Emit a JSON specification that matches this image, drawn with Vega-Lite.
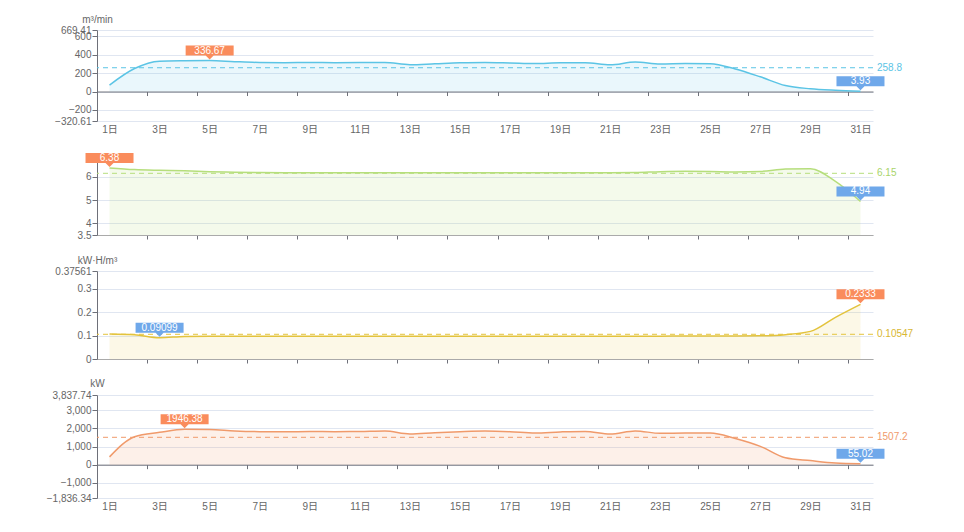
{
  "$schema": "https://vega.github.io/schema/vega-lite/v6.json",
  "autosize": {"type": "pad"},
  "padding": {"left": 46, "top": 14, "right": 0, "bottom": 0},
  "background": "white",
  "datasets": {
    "flow": [
      {"d":1,"v":70},{"d":2,"v":250},{"d":3,"v":330},{"d":4,"v":335},{"d":5,"v":336.67},{"d":6,"v":325},{"d":7,"v":316},{"d":8,"v":314},{"d":9,"v":315},{"d":10,"v":314},{"d":11,"v":316},{"d":12,"v":316},{"d":13,"v":292},{"d":14,"v":302},{"d":15,"v":312},{"d":16,"v":316},{"d":17,"v":311},{"d":18,"v":305},{"d":19,"v":312},{"d":20,"v":312},{"d":21,"v":290},{"d":22,"v":322},{"d":23,"v":300},{"d":24,"v":304},{"d":25,"v":302},{"d":26,"v":245},{"d":27,"v":160},{"d":28,"v":65},{"d":29,"v":30},{"d":30,"v":14},{"d":31,"v":3.93}
    ],
    "ratio": [
      {"d":1,"v":6.38},{"d":2,"v":6.31},{"d":3,"v":6.28},{"d":4,"v":6.26},{"d":5,"v":6.22},{"d":6,"v":6.2},{"d":7,"v":6.18},{"d":8,"v":6.17},{"d":9,"v":6.17},{"d":10,"v":6.17},{"d":11,"v":6.17},{"d":12,"v":6.17},{"d":13,"v":6.17},{"d":14,"v":6.17},{"d":15,"v":6.17},{"d":16,"v":6.17},{"d":17,"v":6.17},{"d":18,"v":6.17},{"d":19,"v":6.17},{"d":20,"v":6.17},{"d":21,"v":6.17},{"d":22,"v":6.18},{"d":23,"v":6.22},{"d":24,"v":6.24},{"d":25,"v":6.23},{"d":26,"v":6.21},{"d":27,"v":6.23},{"d":28,"v":6.33},{"d":29,"v":6.35},{"d":30,"v":5.8},{"d":31,"v":4.94}
    ],
    "eff": [
      {"d":1,"v":0.1065},{"d":2,"v":0.1035},{"d":3,"v":0.09099},{"d":4,"v":0.0965},{"d":5,"v":0.0975},{"d":6,"v":0.0975},{"d":7,"v":0.097},{"d":8,"v":0.097},{"d":9,"v":0.097},{"d":10,"v":0.097},{"d":11,"v":0.0975},{"d":12,"v":0.0975},{"d":13,"v":0.097},{"d":14,"v":0.097},{"d":15,"v":0.0975},{"d":16,"v":0.0975},{"d":17,"v":0.097},{"d":18,"v":0.097},{"d":19,"v":0.0975},{"d":20,"v":0.0975},{"d":21,"v":0.097},{"d":22,"v":0.0975},{"d":23,"v":0.0975},{"d":24,"v":0.098},{"d":25,"v":0.098},{"d":26,"v":0.098},{"d":27,"v":0.099},{"d":28,"v":0.104},{"d":29,"v":0.118},{"d":30,"v":0.178},{"d":31,"v":0.2333}
    ],
    "power": [
      {"d":1,"v":430},{"d":2,"v":1540},{"d":3,"v":1780},{"d":4,"v":1946.38},{"d":5,"v":1935},{"d":6,"v":1855},{"d":7,"v":1818},{"d":8,"v":1813},{"d":9,"v":1823},{"d":10,"v":1818},{"d":11,"v":1828},{"d":12,"v":1853},{"d":13,"v":1693},{"d":14,"v":1763},{"d":15,"v":1818},{"d":16,"v":1853},{"d":17,"v":1818},{"d":18,"v":1748},{"d":19,"v":1803},{"d":20,"v":1833},{"d":21,"v":1688},{"d":22,"v":1858},{"d":23,"v":1728},{"d":24,"v":1743},{"d":25,"v":1743},{"d":26,"v":1440},{"d":27,"v":1010},{"d":28,"v":380},{"d":29,"v":225},{"d":30,"v":95},{"d":31,"v":55.02}
    ]
  },
  "resolve": {"scale": {"x": "independent", "y": "independent"}},
  "spacing": 36,
  "bounds": "flush",
  "vconcat": [
    {
      "width": 776, "height": 91,
      "layer": [
        {
          "data": {"name": "flow"},
          "mark": {"type": "area", "interpolate": "monotone", "color": "#5BC4E5", "opacity": 0.13},
          "encoding": {
            "x": {"field": "d", "type": "quantitative", "scale": {"domain": [0.5, 31.5], "nice": false, "zero": false},
              "axis": {"title": null, "grid": false, "tickCount": 100, "values": [1,2.5,3,4.5,5,6.5,7,8.5,9,10.5,11,12.5,13,14.5,15,16.5,17,18.5,19,20.5,21,22.5,23,24.5,25,26.5,27,28.5,29,30.5,31],
                "labelExpr": "datum.value % 1 === 0 ? datum.value + '日' : ''",
                "tickOpacity": {"condition": {"test": "datum.value % 1 === 0", "value": 0}, "value": 1},
                "tickSize": 4, "offset": -29.47, "labelPadding": 29, "labelFlush": false, "labelOverlap": false, "labelBound": false}},
            "y": {"field": "v", "type": "quantitative", "scale": {"domain": [-320.61, 669.41], "nice": false, "zero": false},
              "axis": {"title": "m³/min", "tickCount": 100, "values": [-320.61, -200, 0, 200, 400, 600, 669.41], "format": ",.2~f", "labelOverlap": false, "labelFlush": false, "tickSize": 5, "labelPadding": 1, "grid": true,
                "titleAngle": 0, "titleAlign": "center", "titleBaseline": "middle", "titleX": 0, "titleY": -11}},
            "y2": {"datum": 0}
          }
        },
        {
          "data": {"name": "flow"},
          "mark": {"type": "line", "interpolate": "monotone", "color": "#5BC4E5", "strokeWidth": 1.5},
          "encoding": {"x": {"field": "d", "type": "quantitative"}, "y": {"field": "v", "type": "quantitative"}}
        },
        {
          "data": {"values": [{"avg": 258.8}]},
          "mark": {"type": "rule", "color": "#5BC4E5", "stroke": "#5BC4E5", "strokeDash": [5, 4], "strokeWidth": 1},
          "encoding": {"y": {"field": "avg", "type": "quantitative"}}
        },
        {
          "data": {"values": [{"avg": 258.8}]},
          "mark": {"type": "text", "color": "#5BC4E5", "align": "left", "baseline": "middle", "dx": 4, "fontSize": 10},
          "encoding": {"x": {"value": "width"}, "y": {"field": "avg", "type": "quantitative"}, "text": {"field": "avg", "type": "nominal"}}
        },
        {
          "data": {"values": [{"d": 5, "v": 336.67, "kind": "max"}, {"d": 31, "v": 3.93, "kind": "min"}]},
          "mark": {"type": "point", "shape": "M0,-1 L-4,-5 L-24,-5 L-24,-15 L24,-15 L24,-5 L4,-5 Z", "size": 4, "filled": true, "opacity": 1, "strokeWidth": 0},
          "encoding": {"x": {"field": "d", "type": "quantitative"}, "y": {"field": "v", "type": "quantitative"},
            "color": {"field": "kind", "type": "nominal", "scale": {"domain": ["max", "min"], "range": ["#FA8C5C", "#6FA8EA"]}, "legend": null}}
        },
        {
          "data": {"values": [{"d": 5, "v": 336.67, "kind": "max"}, {"d": 31, "v": 3.93, "kind": "min"}]},
          "mark": {"type": "text", "color": "white", "dy": -10, "baseline": "middle", "fontSize": 10},
          "encoding": {"x": {"field": "d", "type": "quantitative"}, "y": {"field": "v", "type": "quantitative"}, "text": {"field": "v", "type": "nominal"}}
        }
      ]
    },
    {
      "width": 776, "height": 78,
      "layer": [
        {
          "data": {"name": "ratio"},
          "mark": {"type": "area", "interpolate": "monotone", "color": "#B6DE7C", "opacity": 0.15},
          "encoding": {
            "x": {"field": "d", "type": "quantitative", "scale": {"domain": [0.5, 31.5], "nice": false, "zero": false},
              "axis": {"title": null, "grid": false, "labels": false, "tickCount": 100, "values": [1,2.5,3,4.5,5,6.5,7,8.5,9,10.5,11,12.5,13,14.5,15,16.5,17,18.5,19,20.5,21,22.5,23,24.5,25,26.5,27,28.5,29,30.5,31],
                "tickOpacity": {"condition": {"test": "datum.value % 1 === 0", "value": 0}, "value": 1},
                "tickSize": 4, "domainColor": "#AAAAAA"}},
            "y": {"field": "v", "type": "quantitative", "scale": {"domain": [3.5, 6.85], "nice": false, "zero": false},
              "axis": {"title": null, "tickCount": 100, "values": [3.5, 4, 5, 6], "format": ".1~f", "labelOverlap": false, "labelFlush": false, "tickSize": 5, "labelPadding": 1, "grid": true}},
            "y2": {"datum": 3.5}
          }
        },
        {
          "data": {"name": "ratio"},
          "mark": {"type": "line", "interpolate": "monotone", "color": "#B6DE7C", "strokeWidth": 1.5},
          "encoding": {"x": {"field": "d", "type": "quantitative"}, "y": {"field": "v", "type": "quantitative"}}
        },
        {
          "data": {"values": [{"avg": 6.15}]},
          "mark": {"type": "rule", "color": "#B6DE7C", "stroke": "#B6DE7C", "strokeDash": [5, 4], "strokeWidth": 1},
          "encoding": {"y": {"field": "avg", "type": "quantitative"}}
        },
        {
          "data": {"values": [{"avg": 6.15}]},
          "mark": {"type": "text", "color": "#A8D46A", "align": "left", "baseline": "middle", "dx": 4, "fontSize": 10},
          "encoding": {"x": {"value": "width"}, "y": {"field": "avg", "type": "quantitative"}, "text": {"field": "avg", "type": "nominal"}}
        },
        {
          "data": {"values": [{"d": 1, "v": 6.38, "kind": "max"}, {"d": 31, "v": 4.94, "kind": "min"}]},
          "mark": {"type": "point", "shape": "M0,-1 L-4,-5 L-24,-5 L-24,-15 L24,-15 L24,-5 L4,-5 Z", "size": 4, "filled": true, "opacity": 1, "strokeWidth": 0},
          "encoding": {"x": {"field": "d", "type": "quantitative"}, "y": {"field": "v", "type": "quantitative"},
            "color": {"field": "kind", "type": "nominal", "scale": {"domain": ["max", "min"], "range": ["#FA8C5C", "#6FA8EA"]}, "legend": null}}
        },
        {
          "data": {"values": [{"d": 1, "v": 6.38, "kind": "max"}, {"d": 31, "v": 4.94, "kind": "min"}]},
          "mark": {"type": "text", "color": "white", "dy": -10, "baseline": "middle", "fontSize": 10},
          "encoding": {"x": {"field": "d", "type": "quantitative"}, "y": {"field": "v", "type": "quantitative"}, "text": {"field": "v", "type": "nominal"}}
        }
      ]
    },
    {
      "width": 776, "height": 88,
      "layer": [
        {
          "data": {"name": "eff"},
          "mark": {"type": "area", "interpolate": "monotone", "color": "#E3C33D", "opacity": 0.12},
          "encoding": {
            "x": {"field": "d", "type": "quantitative", "scale": {"domain": [0.5, 31.5], "nice": false, "zero": false},
              "axis": {"title": null, "grid": false, "labels": false, "tickCount": 100, "values": [1,2.5,3,4.5,5,6.5,7,8.5,9,10.5,11,12.5,13,14.5,15,16.5,17,18.5,19,20.5,21,22.5,23,24.5,25,26.5,27,28.5,29,30.5,31],
                "tickOpacity": {"condition": {"test": "datum.value % 1 === 0", "value": 0}, "value": 1},
                "tickSize": 4, "domainColor": "#AAAAAA"}},
            "y": {"field": "v", "type": "quantitative", "scale": {"domain": [0, 0.37561], "nice": false, "zero": false},
              "axis": {"title": "kW·H/m³", "tickCount": 100, "values": [0, 0.1, 0.2, 0.3, 0.37561], "format": ".5~f", "labelOverlap": false, "labelFlush": false, "tickSize": 5, "labelPadding": 1, "grid": true,
                "titleAngle": 0, "titleAlign": "center", "titleBaseline": "middle", "titleX": 0, "titleY": -11}},
            "y2": {"datum": 0}
          }
        },
        {
          "data": {"name": "eff"},
          "mark": {"type": "line", "interpolate": "monotone", "color": "#E3C33D", "strokeWidth": 1.5},
          "encoding": {"x": {"field": "d", "type": "quantitative"}, "y": {"field": "v", "type": "quantitative"}}
        },
        {
          "data": {"values": [{"avg": 0.10547}]},
          "mark": {"type": "rule", "color": "#E3C33D", "stroke": "#E3C33D", "strokeDash": [5, 4], "strokeWidth": 1},
          "encoding": {"y": {"field": "avg", "type": "quantitative"}}
        },
        {
          "data": {"values": [{"avg": 0.10547}]},
          "mark": {"type": "text", "color": "#D8B732", "align": "left", "baseline": "middle", "dx": 4, "fontSize": 10},
          "encoding": {"x": {"value": "width"}, "y": {"field": "avg", "type": "quantitative"}, "text": {"field": "avg", "type": "nominal"}}
        },
        {
          "data": {"values": [{"d": 31, "v": 0.2333, "kind": "max"}, {"d": 3, "v": 0.09099, "kind": "min"}]},
          "mark": {"type": "point", "shape": "M0,-1 L-4,-5 L-24,-5 L-24,-15 L24,-15 L24,-5 L4,-5 Z", "size": 4, "filled": true, "opacity": 1, "strokeWidth": 0},
          "encoding": {"x": {"field": "d", "type": "quantitative"}, "y": {"field": "v", "type": "quantitative"},
            "color": {"field": "kind", "type": "nominal", "scale": {"domain": ["max", "min"], "range": ["#FA8C5C", "#6FA8EA"]}, "legend": null}}
        },
        {
          "data": {"values": [{"d": 31, "v": 0.2333, "kind": "max"}, {"d": 3, "v": 0.09099, "kind": "min"}]},
          "mark": {"type": "text", "color": "white", "dy": -10, "baseline": "middle", "fontSize": 10},
          "encoding": {"x": {"field": "d", "type": "quantitative"}, "y": {"field": "v", "type": "quantitative"}, "text": {"field": "v", "type": "nominal"}}
        }
      ]
    },
    {
      "width": 776, "height": 103,
      "layer": [
        {
          "data": {"name": "power"},
          "mark": {"type": "area", "interpolate": "monotone", "color": "#F09A6B", "opacity": 0.15},
          "encoding": {
            "x": {"field": "d", "type": "quantitative", "scale": {"domain": [0.5, 31.5], "nice": false, "zero": false},
              "axis": {"title": null, "grid": false, "tickCount": 100, "values": [1,2.5,3,4.5,5,6.5,7,8.5,9,10.5,11,12.5,13,14.5,15,16.5,17,18.5,19,20.5,21,22.5,23,24.5,25,26.5,27,28.5,29,30.5,31],
                "labelExpr": "datum.value % 1 === 0 ? datum.value + '日' : ''",
                "tickOpacity": {"condition": {"test": "datum.value % 1 === 0", "value": 0}, "value": 1},
                "tickSize": 4, "offset": -33.33, "labelPadding": 33, "labelFlush": false, "labelOverlap": false, "labelBound": false}},
            "y": {"field": "v", "type": "quantitative", "scale": {"domain": [-1836.34, 3837.74], "nice": false, "zero": false},
              "axis": {"title": "kW", "tickCount": 100, "values": [-1836.34, -1000, 0, 1000, 2000, 3000, 3837.74], "format": ",.2~f", "labelOverlap": false, "labelFlush": false, "tickSize": 5, "labelPadding": 1, "grid": true,
                "titleAngle": 0, "titleAlign": "center", "titleBaseline": "middle", "titleX": 0, "titleY": -12}},
            "y2": {"datum": 0}
          }
        },
        {
          "data": {"name": "power"},
          "mark": {"type": "line", "interpolate": "monotone", "color": "#F09A6B", "strokeWidth": 1.5},
          "encoding": {"x": {"field": "d", "type": "quantitative"}, "y": {"field": "v", "type": "quantitative"}}
        },
        {
          "data": {"values": [{"avg": 1507.2}]},
          "mark": {"type": "rule", "color": "#F09A6B", "stroke": "#F09A6B", "strokeDash": [5, 4], "strokeWidth": 1},
          "encoding": {"y": {"field": "avg", "type": "quantitative"}}
        },
        {
          "data": {"values": [{"avg": 1507.2}]},
          "mark": {"type": "text", "color": "#F09A6B", "align": "left", "baseline": "middle", "dx": 4, "fontSize": 10},
          "encoding": {"x": {"value": "width"}, "y": {"field": "avg", "type": "quantitative"}, "text": {"field": "avg", "type": "nominal"}}
        },
        {
          "data": {"values": [{"d": 4, "v": 1946.38, "kind": "max"}, {"d": 31, "v": 55.02, "kind": "min"}]},
          "mark": {"type": "point", "shape": "M0,-1 L-4,-5 L-24,-5 L-24,-15 L24,-15 L24,-5 L4,-5 Z", "size": 4, "filled": true, "opacity": 1, "strokeWidth": 0},
          "encoding": {"x": {"field": "d", "type": "quantitative"}, "y": {"field": "v", "type": "quantitative"},
            "color": {"field": "kind", "type": "nominal", "scale": {"domain": ["max", "min"], "range": ["#FA8C5C", "#6FA8EA"]}, "legend": null}}
        },
        {
          "data": {"values": [{"d": 4, "v": 1946.38, "kind": "max"}, {"d": 31, "v": 55.02, "kind": "min"}]},
          "mark": {"type": "text", "color": "white", "dy": -10, "baseline": "middle", "fontSize": 10},
          "encoding": {"x": {"field": "d", "type": "quantitative"}, "y": {"field": "v", "type": "quantitative"}, "text": {"field": "v", "type": "nominal"}}
        }
      ]
    }
  ],
  "config": {
    "view": {"stroke": null},
    "font": "Liberation Sans, Noto Sans CJK SC, sans-serif",
    "axis": {
      "labelFont": "Liberation Sans, Noto Sans CJK SC, sans-serif",
      "labelFontSize": 10,
      "labelColor": "#666666",
      "titleFont": "Liberation Sans, Noto Sans CJK SC, sans-serif",
      "titleFontSize": 10,
      "titleFontWeight": "normal",
      "titleColor": "#666666",
      "domainColor": "#6E7079",
      "tickColor": "#6E7079",
      "gridColor": "#E0E6F1"
    },
    "text": {"font": "Liberation Sans, Noto Sans CJK SC, sans-serif"}
  }
}
